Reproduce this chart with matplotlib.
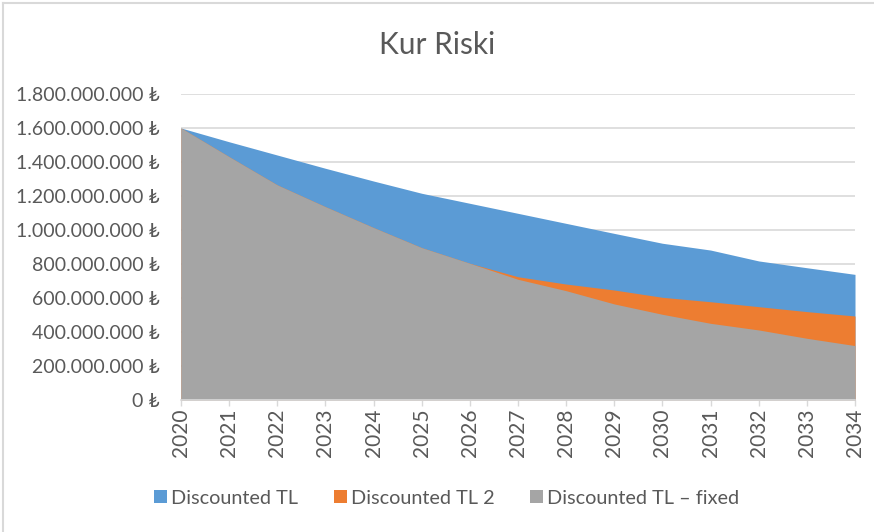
"""
Kur Riski: three overlapping area series (Excel-style area chart).
"""

import matplotlib.pyplot as plt
from matplotlib.lines import Line2D
from matplotlib.patches import Patch
from matplotlib.ticker import FuncFormatter

plt.rcParams["font.family"] = ["Lato", "DejaVu Sans"]

# Data (values in TL)

years = list(range(2020, 2035))

discounted_tl = [
    1600e6, 1519e6, 1441e6, 1363e6, 1288e6, 1216e6, 1157e6, 1098e6,
    1039e6, 980e6, 922e6, 882e6, 818e6, 778e6, 739e6,
]

discounted_tl_2 = [
    1600e6, 1431e6, 1265e6, 1137e6, 1014e6, 896e6, 804e6, 725e6,
    682e6, 647e6, 604e6, 578e6, 549e6, 520e6, 494e6,
]

discounted_tl_fixed = [
    1600e6, 1431e6, 1265e6, 1137e6, 1014e6, 896e6, 804e6, 710e6,
    643e6, 565e6, 504e6, 451e6, 412e6, 363e6, 320e6,
]

series_names = ["Discounted TL", "Discounted TL 2", "Discounted TL \u2013 fixed"]
series_colors = ["#5b9bd5", "#ed7d31", "#a5a5a5"]

y_ticks = [i * 200e6 for i in range(10)]

TEXT_COLOR = "#595959"
GRID_COLOR = "#d9d9d9"


def tl_format(value, _pos):
    # 1600000000 -> "1.600.000.000 ₺"
    return f"{int(round(value)):,}".replace(",", ".") + " \u20ba"


fig = plt.figure(figsize=(8.74, 5.32), dpi=100)
ax = fig.add_axes([181 / 874, 1 - 400 / 532, (855 - 181) / 874, (400 - 94) / 532])

all_series = [discounted_tl, discounted_tl_2, discounted_tl_fixed]
for z, (values, color) in enumerate(zip(all_series, series_colors)):
    ax.fill_between(years, 0, values, color=color, linewidth=0, zorder=2 + z)

ax.set_xlim(years[0], years[-1])
ax.set_ylim(0, 1800e6)
ax.set_xticks(years)
ax.set_xticklabels([str(y) for y in years], rotation=90, fontsize=15, color=TEXT_COLOR)
ax.set_yticks(y_ticks)
ax.yaxis.set_major_formatter(FuncFormatter(tl_format))
ax.tick_params(axis="y", length=0, pad=15, labelsize=14, labelcolor=TEXT_COLOR)
ax.tick_params(axis="x", length=4, width=1, color=GRID_COLOR, pad=2, direction="out")

ax.grid(axis="y", color=GRID_COLOR, linewidth=1.2, zorder=1)
ax.set_axisbelow(True)
for side in ["top", "right", "left"]:
    ax.spines[side].set_visible(False)
ax.spines["bottom"].set_color(GRID_COLOR)
ax.spines["bottom"].set_linewidth(1.2)
ax.spines["bottom"].set_zorder(10)

fig.text(0.5, 1 - 45 / 532, "Kur Riski", ha="center", va="center",
         fontsize=21.5, color=TEXT_COLOR)

handles = [Patch(facecolor=c, edgecolor="none") for c in series_colors]
fig.legend(handles, series_names, loc="center", bbox_to_anchor=(0.511, 1 - 498 / 532),
           ncol=3, frameon=False, fontsize=14.3, labelcolor=TEXT_COLOR,
           handlelength=0.65, handleheight=0.65, handletextpad=0.2, columnspacing=1.8)

# chart area border (top and left edges visible in the crop)
fig.add_artist(Line2D([3 / 874, 1], [1 - 3 / 532, 1 - 3 / 532], color=GRID_COLOR, lw=1.5))
fig.add_artist(Line2D([3 / 874, 3 / 874], [0, 1 - 3 / 532], color=GRID_COLOR, lw=1.5))

fig.savefig("out.png", dpi=100)
